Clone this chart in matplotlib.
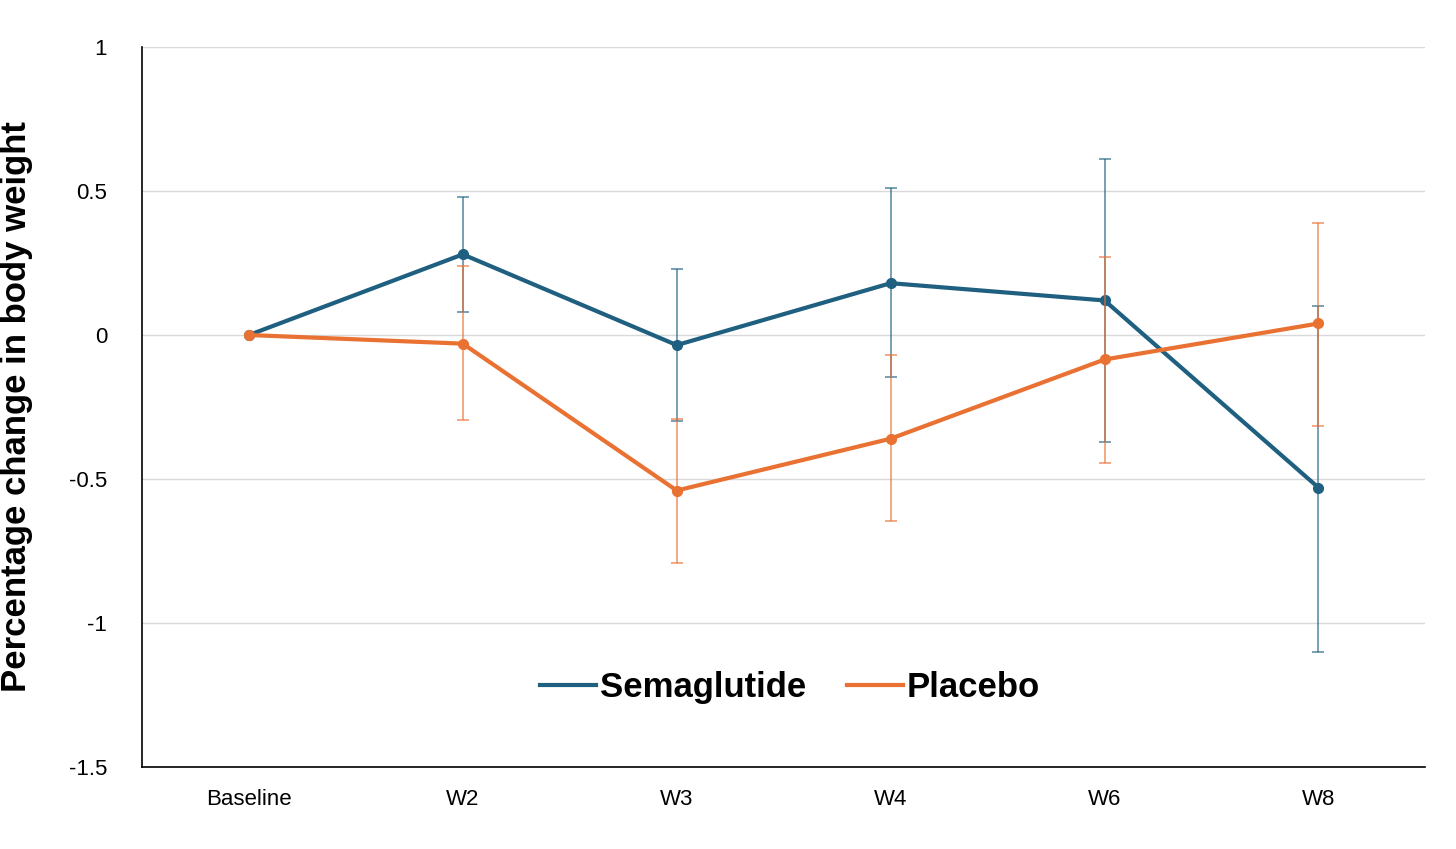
import matplotlib.pyplot as plt
from matplotlib.lines import Line2D
import numpy as np

plt.rcParams["font.family"] = ["Liberation Sans", "DejaVu Sans"]

# Data
weeks = ["Baseline", "W2", "W3", "W4", "W6", "W8"]
sema = [0, 0.28, -0.035, 0.18, 0.12, -0.53]
sema_hi = [0, 0.48, 0.23, 0.51, 0.61, 0.10]
sema_lo = [0, 0.08, -0.30, -0.145, -0.37, -1.10]
plac = [0, -0.03, -0.54, -0.36, -0.085, 0.04]
plac_hi = [0, 0.24, -0.29, -0.07, 0.27, 0.39]
plac_lo = [0, -0.295, -0.79, -0.645, -0.445, -0.315]

BLUE = "#1F5F80"
ORANGE = "#E97132"

fig = plt.figure(figsize=(14.56, 8.49), dpi=100)
ax = fig.add_axes([0.0975, 0.0966, 0.8815, 0.848])
x = np.arange(len(weeks))

def draw(vals, hi, lo, color, label):
    vals = np.array(vals)
    yerr = [vals - np.array(lo), np.array(hi) - vals]
    ax.errorbar(x[1:], vals[1:], yerr=[yerr[0][1:], yerr[1][1:]], fmt="none",
                ecolor=color, elinewidth=1.2, capsize=4, capthick=1.2, alpha=0.7)
    ax.plot(x, vals, color=color, lw=3, marker="o", ms=7, label=label)

draw(sema, sema_hi, sema_lo, BLUE, "Semaglutide")
draw(plac, plac_hi, plac_lo, ORANGE, "Placebo")

ax.set_xlim(-0.5, 5.5)
ax.set_ylim(-1.5, 1)
ax.set_yticks([-1.5, -1, -0.5, 0, 0.5, 1])
ax.set_yticklabels(["-1.5", "-1", "-0.5", "0", "0.5", "1"])
ax.set_xticks(x)
ax.set_xticklabels(weeks)
ax.tick_params(length=0, labelsize=16, pad=16)
ax.tick_params(axis="y", pad=25)
ax.grid(axis="y", color="#d9d9d9", lw=1)
ax.set_axisbelow(True)
for s in ["top", "right"]:
    ax.spines[s].set_visible(False)
ax.spines["left"].set_linewidth(1.2)
ax.spines["bottom"].set_linewidth(1.2)
ax.set_ylabel("Percentage change in body weight", fontsize=25, fontweight="bold", labelpad=26)

handles = [Line2D([], [], color=BLUE, lw=3), Line2D([], [], color=ORANGE, lw=3)]
ax.legend(handles, ["Semaglutide", "Placebo"], loc="center", bbox_to_anchor=(0.505, 0.11),
          ncol=2, frameon=False, prop={"size": 25, "weight": "bold"},
          handlelength=1.6, handletextpad=0.1, columnspacing=1.2)

fig.savefig("out.png", dpi=100)
